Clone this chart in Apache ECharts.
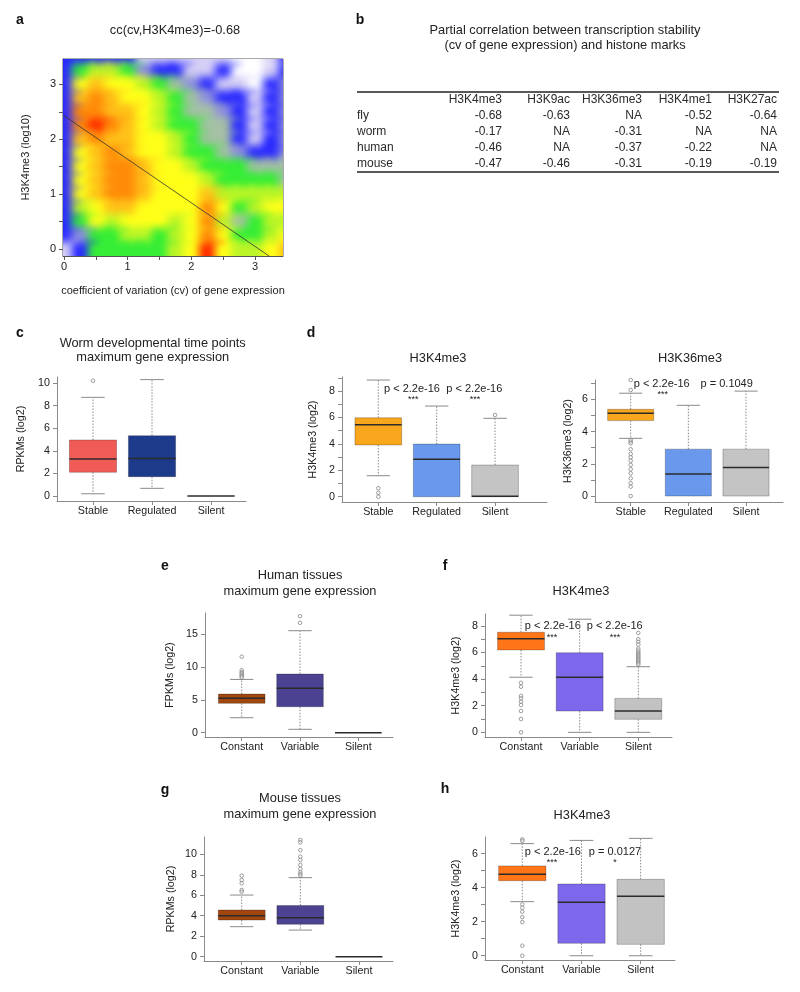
<!DOCTYPE html>
<html>
<head>
<meta charset="utf-8">
<title>Transcription stability and histone marks</title>
<script src="https://cdn.jsdelivr.net/npm/echarts@6/dist/echarts.min.js"></script>
<style>
html, body { margin: 0; padding: 0; background: #fff; }
#main { width: 800px; height: 992px; }
</style>
</head>
<body>
<div id="main"></div>
<script>
// ---- data -----------------------------------------------------------------
// a: density of genes (levels 0..10) on a cv x H3K4me3 grid, top row first
var heatX = [0, 0.25, 0.5, 0.75, 1, 1.25, 1.5, 1.75, 2, 2.25, 2.5, 2.75, 3, 3.25, 3.5];
var heatY = [3.5, 3.25, 3, 2.75, 2.5, 2.25, 2, 1.75, 1.5, 1.25, 1, 0.75, 0.5, 0.25, 0];
var heatLevels = [
  [2, 2, 2, 2, 2, 1, 1, 1, 1, 1, 1, 0, 0, 1, 2],
  [2, 5, 6, 6, 5, 3, 2, 2, 1, 1, 2, 0, 0, 1, 2],
  [2, 7, 8, 7, 7, 6, 5, 4, 3, 2, 1, 1, 0, 2, 3],
  [2, 8, 9, 8, 7, 7, 6, 5, 4, 3, 2, 2, 1, 2, 3],
  [2, 9, 9, 8, 8, 7, 6, 5, 4, 4, 3, 2, 1, 2, 3],
  [2, 9, 10, 9, 8, 7, 6, 5, 5, 4, 4, 2, 1, 2, 3],
  [2, 8, 9, 8, 8, 7, 7, 6, 5, 4, 4, 2, 1, 2, 3],
  [2, 7, 8, 9, 8, 7, 7, 6, 5, 5, 4, 3, 2, 2, 3],
  [2, 7, 8, 9, 9, 8, 7, 7, 6, 5, 5, 5, 4, 4, 4],
  [2, 7, 8, 9, 9, 8, 7, 7, 7, 6, 5, 5, 5, 5, 4],
  [2, 7, 8, 9, 9, 8, 7, 7, 7, 8, 6, 6, 6, 6, 6],
  [2, 6, 7, 8, 8, 7, 7, 7, 7, 9, 7, 5, 6, 7, 7],
  [2, 5, 7, 6, 7, 7, 7, 6, 7, 9, 6, 4, 5, 6, 6],
  [2, 3, 5, 5, 6, 6, 5, 6, 7, 9, 7, 5, 5, 6, 7],
  [1, 2, 5, 5, 5, 5, 5, 6, 7, 10, 7, 6, 6, 7, 8]
];
var fitX = [-0.016, 3.22];
var fitY = [2.44, -0.127];

// b: partial correlation table
var tableCols = ['H3K4me3', 'H3K9ac', 'H3K36me3', 'H3K4me1', 'H3K27ac'];
var tableRows = ['fly', 'worm', 'human', 'mouse'];
var tableValues = [
  [-0.68, -0.63, null, -0.52, -0.64],
  [-0.17, null, -0.31, null, null],
  [-0.46, null, -0.37, -0.22, null],
  [-0.47, -0.46, -0.31, -0.19, -0.19]
];

// box plots: [lower whisker, Q1, median, Q3, upper whisker]
var wormCats = ['Stable', 'Regulated', 'Silent'];
var tissueCats = ['Constant', 'Variable', 'Silent'];

var cBoxes = [[0.2, 2.1, 3.27, 4.96, 8.73], [0.68, 1.71, 3.33, 5.34, 10.3], [0, 0, 0, 0, 0]];
var cOut = [[10.2], [], []];

var dK4Boxes = [[1.59, 3.92, 5.45, 5.98, 8.84], [0, 0, 2.83, 3.99, 6.87], [0, 0, 0.03, 2.4, 5.94]];
var dK4Out = [[0.64, 0.3, 0], [], [6.19]];

var dK36Boxes = [[3.58, 4.68, 5.14, 5.38, 6.38], [0, 0, 1.36, 2.91, 5.63], [0, 0, 1.77, 2.91, 6.51]];
var dK36Out = [[7.2, 6.58, 3.48, 3.37, 3.27, 2.9, 2.61, 2.4, 2.19, 1.93, 1.66, 1.41, 1.1, 0.79, 0.58, 0], [], []];

var eBoxes = [[2.28, 4.46, 5.22, 5.88, 8.1], [0.52, 3.95, 6.75, 8.92, 15.5], [0, 0, 0, 0, 0]];
var eOut = [[11.55, 9.5, 9.2, 9.0, 8.8, 8.6, 8.4], [17.7, 16.7], []];

var fBoxes = [[4.14, 6.19, 7.04, 7.52, 8.8], [0, 1.6, 4.13, 5.98, 8.5], [0, 0.98, 1.6, 2.55, 4.93]];
var fOut = [[3.72, 3.43, 2.73, 2.55, 2.3, 2.05, 1.6, 1.0, 0], [],
  [7.47, 7.0, 6.8, 6.6, 6.3, 6.15, 6.0, 5.9, 5.8, 5.7, 5.6, 5.5, 5.4, 5.3, 5.2, 5.1]];

var gBoxes = [[2.93, 3.58, 4.0, 4.56, 6.02], [2.6, 3.16, 3.81, 5.0, 7.72], [0, 0, 0, 0, 0]];
var gOut = [[7.92, 7.49, 7.17, 6.51, 6.35], [11.4, 11.17, 10.4, 9.77, 9.45, 8.96, 8.57, 8.24, 8.05, 7.92], []];

var hBoxes = [[3.18, 4.41, 4.79, 5.28, 6.59], [0, 0.73, 3.14, 4.22, 6.78], [0, 0.67, 3.49, 4.49, 6.9]];
var hOut = [[6.84, 6.75, 3.02, 2.82, 2.59, 2.27, 1.98, 0.59, 0], [], []];

// ---- styling ----------------------------------------------------------------
var FONT = '"Liberation Sans", Arial, Helvetica, sans-serif';
var AXIS = '#8a8a8a';
var TXT = '#222';
var heatColors = ['#ffffff', '#d6d0f6', '#2a2aff', '#9090e0', '#a6c0a6', '#36ee36',
  '#bcf528', '#ffff1a', '#ffc21a', '#ff8c0a', '#ff2a00'];
var wormCol = ['#f15b55', '#1e3b8b', '#444'];
var markCol = ['#f8a61c', '#6a98ec', '#c4c4c4'];
var tisCol = ['#a2460f', '#4b4391', '#444'];
var tisMarkCol = ['#ff7518', '#7d68ec', '#c2c2c2'];

// panel a pixel frame: cv 0 at x=64 (63.67 px/unit), H3K4me3 0 at y=249 (54.9 px/unit)
function xVal(px) { return (px - 64) / 63.67; }
function yVal(px) { return (249 - px) / 54.9; }

var grids = [], xAxes = [], yAxes = [], series = [], graphic = [];

function txt(x, y, s, size, opt) {
  opt = opt || {};
  graphic.push({ type: 'text', x: x, y: y, silent: true,
    style: { text: s, fontFamily: FONT, fontSize: size, fontWeight: opt.bold ? 'bold' : 'normal',
      fill: opt.fill || TXT, align: opt.align || 'center', verticalAlign: 'middle' } });
}
function rng(a, b, step) { var out = []; for (var v = a; v <= b + 1e-9; v += step) out.push(+v.toFixed(3)); return out; }

// ---- panel a ----------------------------------------------------------------
grids.push({ left: 63, top: 59, width: 220, height: 197, show: true, borderColor: '#555', borderWidth: 1 });
xAxes.push({ gridIndex: 0, type: 'value', min: xVal(63), max: xVal(283),
  name: 'coefficient of variation (cv) of gene expression', nameLocation: 'middle', nameGap: 29,
  nameTextStyle: { fontFamily: FONT, fontSize: 11, color: TXT },
  axisLine: { onZero: false, lineStyle: { color: '#555' } },
  axisTick: { customValues: rng(0, 3, 0.5), length: 4, lineStyle: { color: '#555' } },
  axisLabel: { customValues: [0, 1, 2, 3], margin: 5, fontFamily: FONT, fontSize: 11, color: TXT },
  splitLine: { show: false } });
yAxes.push({ gridIndex: 0, type: 'value', min: yVal(256), max: yVal(59),
  name: 'H3K4me3 (log10)', nameLocation: 'middle', nameGap: 32,
  nameTextStyle: { fontFamily: FONT, fontSize: 11, color: TXT },
  axisLine: { onZero: false, lineStyle: { color: '#555' } },
  axisTick: { customValues: rng(0, 3, 0.5), length: 4, lineStyle: { color: '#555' } },
  axisLabel: { customValues: [0, 1, 2, 3], margin: 7, fontFamily: FONT, fontSize: 11, color: TXT },
  splitLine: { show: false } });

// density cells: each cell is painted as a soft shadow so neighbouring cells blend
var heatData = [];
heatLevels.forEach(function (row, r) {
  row.forEach(function (lv, c) { heatData.push([heatX[c], heatY[r], lv, c, r]); });
});
var SOFT = 8, EXT = 9, OFF = 4000;
series.push({
  type: 'custom', xAxisIndex: 0, yAxisIndex: 0, silent: true, clip: true, z: 1,
  data: heatData,
  renderItem: function (params, api) {
    var h = 0.125, c = api.value(3), r = api.value(4);
    var x0 = api.value(0) - h, x1 = api.value(0) + h;
    var y0 = api.value(1) - h, y1 = api.value(1) + h;
    if (c === 0) x0 -= 0.6;
    if (c === heatX.length - 1) x1 += 0.6;
    if (r === 0) y1 += 0.6;
    if (r === heatY.length - 1) y0 -= 0.6;
    var p0 = api.coord([x0, y1]), p1 = api.coord([x1, y0]);
    var col = api.visual('color');
    return { type: 'rect',
      shape: { x: p0[0] - OFF, y: p0[1], width: p1[0] - p0[0] + EXT, height: p1[1] - p0[1] + EXT },
      style: { fill: col, shadowColor: col, shadowBlur: SOFT, shadowOffsetX: OFF, shadowOffsetY: 0 } };
  }
});
series.push({ type: 'line', xAxisIndex: 0, yAxisIndex: 0, symbol: 'none', silent: true, z: 3,
  data: fitX.map(function (x, i) { return [x, fitY[i]]; }),
  lineStyle: { color: '#333', width: 0.8 } });

// ---- box plots ----------------------------------------------------------------
function boxRenderer(colors) {
  return function (params, api) {
    var x = api.value(0);
    var lo = api.coord([x, api.value(1)]), q1 = api.coord([x, api.value(2)]);
    var md = api.coord([x, api.value(3)]), q3 = api.coord([x, api.value(4)]);
    var hi = api.coord([x, api.value(5)]);
    var bw = api.size([0.8, 0])[0], cx = md[0];
    var dash = { stroke: AXIS, lineWidth: 1, lineDash: [1.5, 1.5] };
    var cap = { stroke: AXIS, lineWidth: 1 };
    var kids = [];
    if (q3[1] - hi[1] > 0.5) {
      kids.push({ type: 'line', shape: { x1: cx, y1: q3[1], x2: cx, y2: hi[1] }, style: dash });
      kids.push({ type: 'line', shape: { x1: cx - bw / 4, y1: hi[1], x2: cx + bw / 4, y2: hi[1] }, style: cap });
    }
    if (lo[1] - q1[1] > 0.5) {
      kids.push({ type: 'line', shape: { x1: cx, y1: q1[1], x2: cx, y2: lo[1] }, style: dash });
      kids.push({ type: 'line', shape: { x1: cx - bw / 4, y1: lo[1], x2: cx + bw / 4, y2: lo[1] }, style: cap });
    }
    if (q1[1] - q3[1] > 0.5) {
      kids.push({ type: 'rect', shape: { x: cx - bw / 2, y: q3[1], width: bw, height: q1[1] - q3[1] },
        style: { fill: colors[params.dataIndex], stroke: 'rgba(0,0,0,0.3)', lineWidth: 0.8 } });
    }
    kids.push({ type: 'line', shape: { x1: cx - bw / 2, y1: md[1], x2: cx + bw / 2, y2: md[1] },
      style: { stroke: '#2b2b2b', lineWidth: 1.5 } });
    return { type: 'group', children: kids };
  };
}

function boxPanel(p) {
  var gi = grids.length;
  grids.push({ left: p.grid[0], top: p.grid[1], width: p.grid[2], height: p.grid[3] });
  xAxes.push({ gridIndex: gi, type: 'value', min: p.x[0], max: p.x[1],
    axisLine: { onZero: false, lineStyle: { color: AXIS } },
    axisTick: { customValues: [1, 2, 3], length: 4, lineStyle: { color: AXIS } },
    axisLabel: { customValues: [1, 2, 3], margin: 5, fontFamily: FONT, fontSize: 10.7, color: TXT,
      formatter: function (v) { return p.cats[Math.round(v) - 1]; } },
    splitLine: { show: false } });
  yAxes.push({ gridIndex: gi, type: 'value', min: p.y[0], max: p.y[1],
    name: p.name, nameLocation: 'middle', nameGap: p.gap,
    nameTextStyle: { fontFamily: FONT, fontSize: 10.7, color: TXT },
    axisLine: { show: true, onZero: false, lineStyle: { color: AXIS } },
    axisTick: { customValues: p.ticks, length: 4, lineStyle: { color: AXIS } },
    axisLabel: { customValues: p.labels, margin: 7, fontFamily: FONT, fontSize: 10.7, color: TXT },
    splitLine: { show: false } });
  series.push({ type: 'custom', xAxisIndex: gi, yAxisIndex: gi, silent: true,
    data: p.boxes.map(function (b, i) { return [i + 1].concat(b); }),
    renderItem: boxRenderer(p.colors) });
  var pts = [];
  p.out.forEach(function (vals, i) { vals.forEach(function (v) { pts.push([i + 1, v]); }); });
  series.push({ type: 'scatter', xAxisIndex: gi, yAxisIndex: gi, silent: true, data: pts,
    symbol: 'circle', symbolSize: 3.6, z: 3,
    itemStyle: { color: 'rgba(255,255,255,0.5)', borderColor: '#7a7a7a', borderWidth: 0.9 } });
}

boxPanel({ grid: [57, 377, 189, 124], x: [0.39, 3.593], y: [-0.44, 10.53], cats: wormCats,
  boxes: cBoxes, out: cOut, colors: wormCol, name: 'RPKMs (log2)', gap: 30,
  labels: rng(0, 10, 2), ticks: rng(0, 10, 2) });
boxPanel({ grid: [342, 377, 205, 125], x: [0.378, 3.89], y: [-0.4, 9.07], cats: wormCats,
  boxes: dK4Boxes, out: dK4Out, colors: markCol, name: 'H3K4me3 (log2)', gap: 23,
  labels: rng(0, 8, 2), ticks: rng(0, 9, 1) });
boxPanel({ grid: [595, 380, 188, 122], x: [0.381, 3.642], y: [-0.37, 7.2], cats: wormCats,
  boxes: dK36Boxes, out: dK36Out, colors: markCol, name: 'H3K36me3 (log2)', gap: 21,
  labels: rng(0, 6, 2), ticks: rng(0, 7, 1) });
boxPanel({ grid: [205, 613, 188, 124], x: [0.37, 3.595], y: [-0.65, 18.19], cats: tissueCats,
  boxes: eBoxes, out: eOut, colors: tisCol, name: 'FPKMs (log2)', gap: 29,
  labels: rng(0, 15, 5), ticks: rng(0, 15, 5) });
boxPanel({ grid: [485, 614, 187, 123], x: [0.386, 3.575], y: [-0.35, 8.89], cats: tissueCats,
  boxes: fBoxes, out: fOut, colors: tisMarkCol, name: 'H3K4me3 (log2)', gap: 23,
  labels: rng(0, 8, 2), ticks: rng(0, 8, 1) });
boxPanel({ grid: [204, 837, 189, 124], x: [0.357, 3.58], y: [-0.42, 11.69], cats: tissueCats,
  boxes: gBoxes, out: gOut, colors: tisCol, name: 'RPKMs (log2)', gap: 27,
  labels: rng(0, 10, 2), ticks: rng(0, 10, 2) });
boxPanel({ grid: [485, 837, 190, 123], x: [0.37, 3.58], y: [-0.25, 6.98], cats: tissueCats,
  boxes: hBoxes, out: hOut, colors: tisMarkCol, name: 'H3K4me3 (log2)', gap: 23,
  labels: rng(0, 6, 2), ticks: rng(0, 6, 1) });

// ---- texts ------------------------------------------------------------------
[['a', 20, 20], ['b', 360, 20], ['c', 20, 333], ['d', 311, 333],
 ['e', 165, 566], ['f', 445, 566], ['g', 165, 790], ['h', 445, 789]].forEach(function (l) {
  txt(l[1], l[2], l[0], 14, { bold: true, fill: '#111' });
});

txt(175, 30, 'cc(cv,H3K4me3)=-0.68', 12.8);
txt(565, 30, 'Partial correlation between transcription stability', 12.8);
txt(565, 45, '(cv of gene expression) and histone marks', 12.8);
txt(152.7, 343, 'Worm developmental time points', 12.8);
txt(152.7, 357.5, 'maximum gene expression', 12.8);
txt(438, 358, 'H3K4me3', 12.8);
txt(690, 358, 'H3K36me3', 12.8);
txt(300, 575, 'Human tissues', 12.8);
txt(300, 591, 'maximum gene expression', 12.8);
txt(581, 591, 'H3K4me3', 12.8);
txt(300, 798, 'Mouse tissues', 12.8);
txt(300, 814, 'maximum gene expression', 12.8);
txt(582, 815, 'H3K4me3', 12.8);

[[412, 389, 'p < 2.2e-16'], [474.3, 389, 'p < 2.2e-16'], [661.7, 384, 'p < 2.2e-16'], [726.7, 384, 'p = 0.1049'],
 [552.8, 626, 'p < 2.2e-16'], [614.7, 626, 'p < 2.2e-16'], [552.8, 851.7, 'p < 2.2e-16'], [615, 851.7, 'p = 0.0127']]
  .forEach(function (a) { txt(a[0], a[1], a[2], 11); });
[[413.3, 400, '***'], [475, 400, '***'], [662.7, 395, '***'], [552, 637.5, '***'], [615, 637.5, '***'],
 [552, 862.5, '***'], [615, 862.5, '*']].forEach(function (a) { txt(a[0], a[1], a[2], 9); });

// table b
var colRight = [502, 570, 642, 712, 777];
var rowY = [115.7, 131.7, 147.3, 163.3];
graphic.push({ type: 'line', silent: true, shape: { x1: 357, y1: 92, x2: 779, y2: 92 }, style: { stroke: '#222', lineWidth: 1.5 } });
graphic.push({ type: 'line', silent: true, shape: { x1: 357, y1: 172, x2: 779, y2: 172 }, style: { stroke: '#222', lineWidth: 1.5 } });
tableCols.forEach(function (c, j) { txt(colRight[j], 99.5, c, 12, { align: 'right', fill: '#2a2a2a' }); });
tableRows.forEach(function (r, i) {
  txt(357, rowY[i], r, 12, { align: 'left', fill: '#2a2a2a' });
  tableValues[i].forEach(function (v, j) {
    txt(colRight[j], rowY[i], v === null ? 'NA' : v.toFixed(2), 12, { align: 'right', fill: '#2a2a2a' });
  });
});

var chart = echarts.init(document.getElementById('main'), null, { renderer: 'canvas' });
chart.setOption({
  animation: false,
  visualMap: { type: 'continuous', show: false, min: 0, max: 10, dimension: 2, seriesIndex: 0,
    inRange: { color: heatColors } },
  grid: grids,
  xAxis: xAxes,
  yAxis: yAxes,
  series: series,
  graphic: graphic
});
</script>
</body>
</html>
